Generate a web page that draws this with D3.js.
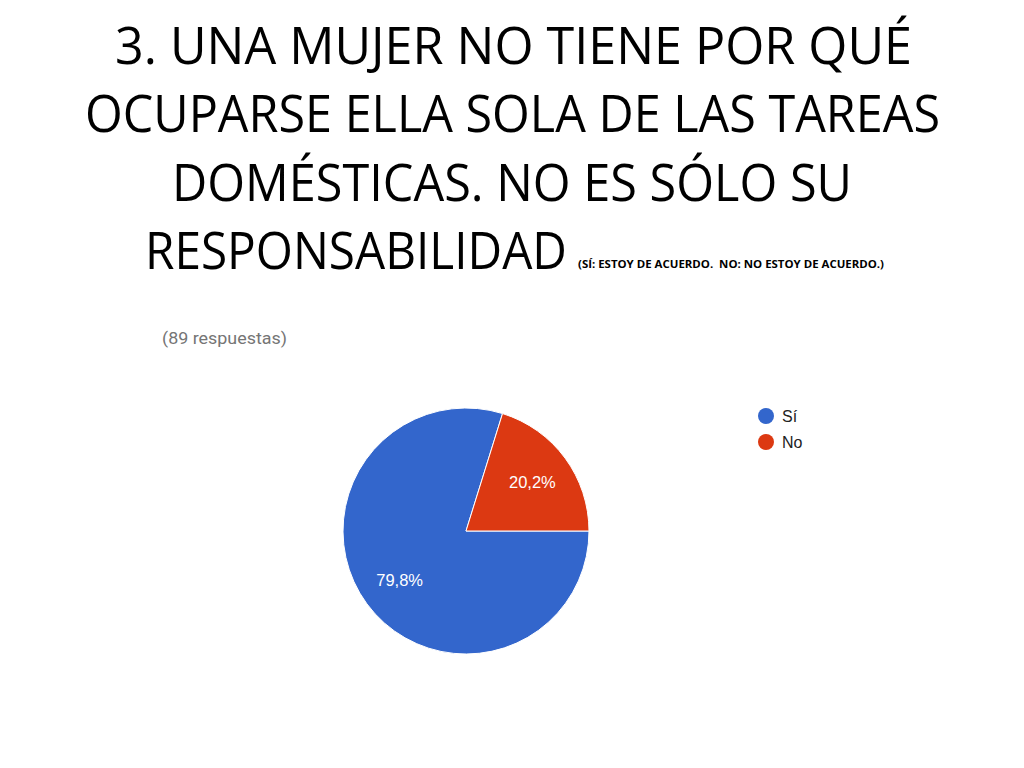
<!DOCTYPE html>
<html>
<head>
<meta charset="utf-8">
<script src="https://cdn.jsdelivr.net/npm/d3@7"></script>
<style>
  body { margin: 0; background: #fff; }
</style>
</head>
<body>
<div id="container"></div>
<script>
const categories = ['Sí', 'No'];
const values = [79.8, 20.2];
const labels = ['79,8%', '20,2%'];
const colors = ['#3366cc', '#dc3912'];

const titleLines = [
  '3. UNA MUJER NO TIENE POR QUÉ',
  'OCUPARSE ELLA SOLA DE LAS TAREAS',
  'DOMÉSTICAS. NO ES SÓLO SU',
  'RESPONSABILIDAD'
];
const titleNote = '(SÍ: ESTOY DE ACUERDO.  NO: NO ESTOY DE ACUERDO.)';
const responses = '(89 respuestas)';

const width = 1024;
const height = 768;

const svg = d3.select('#container')
  .append('svg')
  .attr('width', width)
  .attr('height', height);

// title, squeezed to the widths of the slide's Calibri lines
const titleFit = [[115, 797], [85, 855], [172, 680], [145, 422]];
const titleBase = [64, 132, 201, 269];

titleLines.forEach((t, i) => {
  svg.append('text')
    .attr('x', titleFit[i][0])
    .attr('y', titleBase[i])
    .attr('textLength', titleFit[i][1])
    .attr('lengthAdjust', 'spacingAndGlyphs')
    .attr('style', 'font-family: "Open Sans", sans-serif; font-size: 51px')
    .attr('fill', '#000')
    .text(t);
});

svg.append('text')
  .attr('x', 578)
  .attr('y', 268)
  .attr('textLength', 306)
  .attr('lengthAdjust', 'spacingAndGlyphs')
  .attr('style', 'font-family: "Open Sans", sans-serif; font-size: 11px; font-weight: bold; white-space: pre')
  .attr('fill', '#000')
  .text(titleNote);

svg.append('text')
  .attr('x', 162)
  .attr('y', 344)
  .attr('textLength', 125)
  .attr('lengthAdjust', 'spacingAndGlyphs')
  .attr('style', 'font-family: Roboto, Arial, sans-serif; font-size: 17px')
  .attr('fill', '#757575')
  .text(responses);

// pie
const cx = 466, cy = 531, radius = 123;

const pie = d3.pie()
  .sort(null)
  .startAngle(Math.PI / 2)
  .endAngle(Math.PI / 2 + 2 * Math.PI);

const arc = d3.arc().innerRadius(0).outerRadius(radius);
const labelArc = d3.arc().innerRadius(radius * 0.67).outerRadius(radius * 0.67);

const g = svg.append('g')
  .attr('transform', `translate(${cx},${cy})`);

const arcs = pie(values);

g.selectAll('path')
  .data(arcs)
  .enter()
  .append('path')
  .attr('d', arc)
  .attr('fill', (d, i) => colors[i])
  .attr('stroke', '#fff')
  .attr('stroke-width', 1);

g.selectAll('text')
  .data(arcs)
  .enter()
  .append('text')
  .attr('transform', d => `translate(${labelArc.centroid(d)})`)
  .attr('text-anchor', 'middle')
  .attr('dy', '0.35em')
  .attr('style', 'font-family: "Liberation Sans", Arial, sans-serif; font-size: 16.5px')
  .attr('fill', '#fff')
  .text((d, i) => labels[i]);

// legend
const legendY = d3.scaleBand()
  .domain(categories)
  .range([403, 455]);

const legend = svg.append('g');

legend.selectAll('circle')
  .data(categories)
  .enter()
  .append('circle')
  .attr('cx', 766)
  .attr('cy', d => legendY(d) + legendY.bandwidth() / 2)
  .attr('r', 8)
  .attr('fill', (d, i) => colors[i]);

legend.selectAll('text')
  .data(categories)
  .enter()
  .append('text')
  .attr('x', 782)
  .attr('y', d => legendY(d) + legendY.bandwidth() / 2)
  .attr('dy', '0.36em')
  .attr('style', 'font-family: "Liberation Sans", Arial, sans-serif; font-size: 16px')
  .attr('fill', '#222')
  .text(d => d);
</script>
</body>
</html>
